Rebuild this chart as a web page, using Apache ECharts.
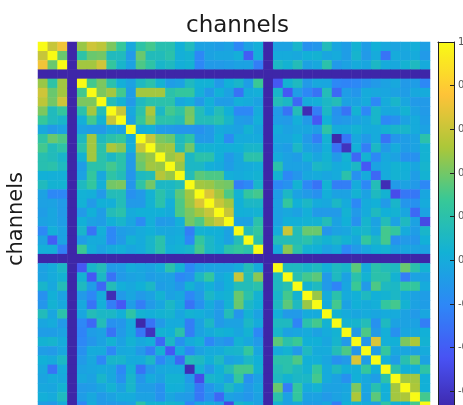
<!DOCTYPE html>
<html><head><meta charset="utf-8">
<style>html,body{margin:0;padding:0;background:#fff;overflow:hidden}#c{width:463px;height:405px}</style>
<script src="https://cdn.jsdelivr.net/npm/echarts@6/dist/echarts.min.js"></script>
</head><body><div id="c"></div>
<script>
const D = -0.69; // dead channels sit at the bottom of the colour scale
const titleText = 'channels';
const yLabelText = 'channels';
const colorbarTicks = [1, 0.8, 0.6, 0.4, 0.2, 0, -0.2, -0.4, -0.6];
const parula = ['#3e26a8', '#4852f4', '#2e87f7', '#12b1d6', '#37c897', '#abc739', '#fec338', '#f9fb15'];
// upper triangle: row i lists columns i..39
const upper = [
[1,.6,.72,D,.48,.62,.57,.42,.26,-.02,.22,.3,.18,.18,.03,.13,-.05,-.06,-.08,-.05,-.2,-.05,.02,D,-.05,-.05,.08,-.15,-.12,.14,-.03,-.08,.05,-.08,.03,-.02,-.04,-.02,.02,-.07],
[1,.38,D,.22,.38,.4,.13,.13,-.1,.38,.14,.14,.2,.02,.05,-.2,-.05,-.03,-.03,.02,-.4,.02,D,0,0,-.02,.03,.05,-.03,0,-.08,.07,-.1,0,-.3,0,-.03,0,-.1],
[1,D,.5,.5,.62,.25,.08,-.05,.32,.22,.08,.12,.02,.05,-.2,-.1,-.1,-.08,-.05,-.05,-.25,D,.1,.05,.15,-.05,-.02,.2,-.1,-.05,0,-.03,.1,0,-.02,.05,.12,0],
[D,D,D,D,D,D,D,D,D,D,D,D,D,D,D,D,D,D,D,D,D,D,D,D,D,D,D,D,D,D,D,D,D,D,D,D,D],
[1,.3,.42,.2,.02,-.05,.12,.2,.05,-.08,-.05,.12,.04,.04,-.1,.03,.08,-.08,.28,D,-.42,.05,.12,-.1,-.02,-.03,-.2,-.22,-.2,-.15,-.1,-.05,-.02,-.1,-.08,-.2],
[1,.42,.5,.3,-.08,.5,.5,.5,.2,.25,.25,.02,-.1,.03,-.05,-.3,0,.02,D,.08,-.42,-.08,-.2,-.3,.15,-.35,-.08,-.12,0,-.02,-.03,-.05,-.08,-.02,0],
[1,.15,.05,-.1,.12,.2,.2,.2,-.02,.02,-.1,.03,-.08,-.08,.02,0,-.05,D,.15,.1,-.35,0,.02,.1,.15,-.05,-.05,0,-.2,0,.08,-.03,-.1,-.1],
[1,.6,-.02,.2,.52,.1,.3,.22,.4,.15,.02,.15,.03,-.2,-.2,0,D,-.1,-.3,.15,-.65,-.25,.1,-.15,-.3,.05,-.2,.08,-.02,-.02,.05,-.05,-.1],
[1,-.05,.25,.45,.2,.2,.15,.42,.15,.15,.2,.08,-.08,-.1,.02,D,-.08,-.1,.02,-.1,-.42,.03,-.12,-.1,-.05,-.02,.08,-.2,-.15,-.05,0,-.08],
[1,0,.02,-.08,-.1,-.12,-.12,-.15,-.1,0,-.03,-.05,.05,-.03,D,0,-.05,-.02,-.03,-.08,.22,0,0,.05,0,0,.05,.08,.08,0,-.05],
[1,.6,.42,.38,.12,.22,-.1,-.1,.03,-.18,0,0,0,D,-.03,-.03,.03,-.1,-.25,.05,-.68,-.28,-.02,-.1,0,-.3,-.12,-.08,-.05,.2],
[1,.48,.5,.15,.4,.05,.05,.03,.02,.03,.08,.08,D,-.05,-.08,.1,-.05,-.1,.02,-.3,-.62,.02,-.25,.1,-.1,0,-.08,-.05,.05],
[1,.48,.55,.1,.2,.2,.03,-.1,-.02,.2,.2,D,0,-.05,-.08,.05,-.03,.05,-.1,.05,-.35,.05,-.2,-.02,-.05,-.15,-.15,.05],
[1,.48,.1,.1,.02,0,-.08,-.02,0,.02,D,.2,-.05,-.05,-.05,.1,.07,0,.03,.1,-.42,-.05,0,.05,.03,-.03,.07],
[1,.15,.35,.32,.32,.02,0,.02,.05,D,.05,-.2,-.12,-.02,0,-.03,0,.2,-.15,0,-.35,0,.05,.02,-.08,.05],
[1,.5,.48,.42,.4,-.25,-.2,.08,D,-.2,-.15,.05,-.2,-.3,.05,-.25,-.25,0,-.2,.15,-.65,-.1,-.05,-.1,-.2],
[1,.65,.5,.32,.05,.25,.3,D,-.08,.1,-.05,-.1,-.15,.02,-.05,-.05,.05,-.05,.12,.05,-.48,-.28,-.28,-.03],
[1,.6,.5,.03,.1,.1,D,-.05,.25,.03,.1,0,-.02,.1,0,-.2,0,.03,-.1,.08,-.12,-.15,0],
[1,.6,.03,.02,.05,D,-.05,-.02,-.05,.02,-.1,-.1,-.1,.05,-.1,0,.12,.03,.05,-.03,-.35,-.05],
[1,-.05,-.05,.2,D,-.05,.03,.03,.05,.05,.15,-.05,.03,-.15,.07,-.05,.15,-.05,.12,-.05,-.5],
[1,.15,.25,D,0,.6,.15,.38,.38,-.12,-.05,-.03,.05,.08,-.02,.3,.25,0,-.08,.08],
[1,.2,D,.15,.15,.15,.2,.1,.05,.1,.05,-.02,.25,.1,.3,-.15,-.1,-.12,.03],
[1,D,0,.45,.2,.05,.03,-.05,0,-.2,-.1,-.03,.03,.05,-.05,-.03,-.05,-.05],
[D,D,D,D,D,D,D,D,D,D,D,D,D,D,D,D,D],
[1,.12,.12,.08,.12,.02,.12,.08,.35,0,.2,.15,.12,.38,.2,.05],
[1,.18,.3,.35,-.1,.12,-.05,.2,.05,.2,.2,.05,-.25,-.05,-.05],
[1,.05,.12,-.1,-.22,-.03,.28,-.1,.32,.12,.1,.25,.25,0],
[1,.48,0,.2,0,.03,.12,.03,.05,.1,0,-.05,-.08],
[1,0,.3,-.05,.03,0,.02,.25,.3,.05,-.05,-.08],
[1,.05,0,-.03,0,-.03,0,0,-.05,-.1,-.03],
[1,.05,.07,.15,-.15,.12,-.05,-.05,-.05,-.25],
[1,-.1,.32,-.1,.02,-.15,-.03,-.02,.03],
[1,-.12,.65,.02,.03,.42,.52,.05],
[1,-.08,.25,-.02,-.03,-.05,0],
[1,.02,-.08,.18,.35,-.05],
[1,.2,.03,.02,.22],
[1,.5,.5,.03],
[1,.52,.03],
[1,.3],
[1]
];
const channels = upper.map((_, i) => String(i + 1));
const cells = [];
upper.forEach((row, i) => row.forEach((v, k) => {
  const j = i + k;
  cells.push([j, i, v]);
  if (i !== j) cells.push([i, j, v]);
}));
const frameLine = {show: true, onZero: false, lineStyle: {color: '#222'}};
const chart = echarts.init(document.getElementById('c'), null, {renderer: 'canvas'});
chart.setOption({
  animation: false,
  backgroundColor: '#fff',
  title: {text: titleText, left: 186, top: 15, padding: 0,
    textStyle: {fontFamily: 'DejaVu Sans', fontSize: 23, fontWeight: 'normal', color: '#1a1a1a'}},
  grid: [
    {left: 38, top: 42, width: 392, height: 369, show: false, outerBoundsMode: 'none'},
    {left: 438, top: 42, width: 16, height: 369, show: false, outerBoundsMode: 'none'}
  ],
  graphic: [{type: 'text', rotation: Math.PI / 2, x: 17, y: 219,
    style: {text: yLabelText, font: '21px "DejaVu Sans"', fill: '#1a1a1a', textAlign: 'center', textVerticalAlign: 'middle'}}],
  xAxis: [
    {type: 'category', data: channels, gridIndex: 0, show: false},
    {type: 'category', data: ['c'], gridIndex: 1, position: 'top', z: 10,
      axisLine: frameLine, axisTick: {show: false}, axisLabel: {show: false}, splitLine: {show: false}},
    {type: 'category', data: ['c'], gridIndex: 1, position: 'bottom', z: 10,
      axisLine: frameLine, axisTick: {show: false}, axisLabel: {show: false}, splitLine: {show: false}}
  ],
  yAxis: [
    {type: 'category', data: channels, gridIndex: 0, inverse: true, show: false},
    {type: 'value', gridIndex: 1, position: 'right', min: D, max: 1, z: 10,
      axisLine: frameLine,
      axisTick: {show: true, inside: true, length: 4, customValues: colorbarTicks, lineStyle: {color: '#222'}},
      axisLabel: {show: true, margin: 4, fontSize: 10, color: '#555', fontFamily: 'DejaVu Sans', customValues: colorbarTicks, hideOverlap: false},
      splitLine: {show: false}},
    {type: 'value', gridIndex: 1, position: 'left', min: D, max: 1, z: 10,
      axisLine: frameLine, axisTick: {show: false}, axisLabel: {show: false}, splitLine: {show: false}}
  ],
  visualMap: [{type: 'continuous', seriesIndex: 0, min: D, max: 1, calculable: false, realtime: false, z: 1,
    left: 438, top: 42, itemWidth: 16, itemHeight: 369, text: ['', ''], padding: 0, hoverLink: false,
    inRange: {color: parula}}],
  series: [
    {type: 'heatmap', xAxisIndex: 0, yAxisIndex: 0, data: cells, progressive: 0, emphasis: {disabled: true}},
    {type: 'line', xAxisIndex: 1, yAxisIndex: 1, data: []},
    {type: 'line', xAxisIndex: 2, yAxisIndex: 2, data: []}
  ]
});
</script></body></html>
